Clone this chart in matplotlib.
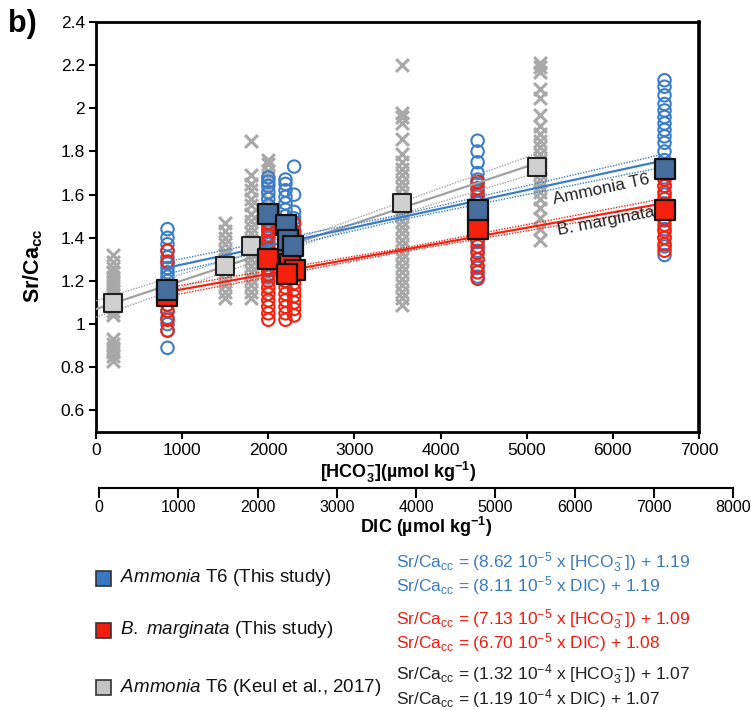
import numpy as np
import matplotlib
matplotlib.use("Agg")
import matplotlib.pyplot as plt
from matplotlib import font_manager

# fonts: narrow sans if present, else Liberation Sans
names = {f.name for f in font_manager.fontManager.ttflist}
narrow = "Liberation Sans Narrow" if "Liberation Sans Narrow" in names else "Liberation Sans"
plt.rcParams["font.family"] = [narrow, "DejaVu Sans"]
plt.rcParams["mathtext.fontset"] = "custom"
plt.rcParams["mathtext.rm"] = narrow
plt.rcParams["mathtext.it"] = narrow + ":italic"
plt.rcParams["mathtext.bf"] = narrow + ":bold"

# Keul et al. 2017 (grey crosses) - HCO3 columns
keul_cols = [200, 1500, 1800, 2000, 3550, 5150]
keul_200 = [0.83, 0.85, 0.87, 0.89, 0.91, 0.93, 1.04, 1.06, 1.08, 1.10, 1.12, 1.14, 1.16, 1.18, 1.20, 1.22, 1.24, 1.26, 1.29, 1.32]
keul_1500 = [1.12, 1.15, 1.18, 1.21, 1.24, 1.26, 1.28, 1.30, 1.32, 1.34, 1.37, 1.40, 1.43, 1.47]
keul_1800 = [1.12, 1.15, 1.18, 1.21, 1.24, 1.27, 1.30, 1.33, 1.36, 1.39, 1.42, 1.45, 1.48, 1.51, 1.55, 1.58, 1.62, 1.65, 1.69, 1.85]
keul_2000 = [1.14, 1.18, 1.22, 1.26, 1.30, 1.34, 1.38, 1.42, 1.46, 1.50, 1.54, 1.58, 1.62, 1.65, 1.68, 1.71, 1.74, 1.76]
keul_3550 = [1.09, 1.12, 1.15, 1.18, 1.21, 1.24, 1.27, 1.30, 1.33, 1.36, 1.39, 1.42, 1.45, 1.48, 1.51, 1.54, 1.57, 1.60, 1.63, 1.66, 1.69, 1.72, 1.75, 1.79, 1.86, 1.93, 1.96, 1.98, 2.20]
keul_5150 = [1.39, 1.44, 1.49, 1.54, 1.58, 1.61, 1.64, 1.67, 1.70, 1.73, 1.76, 1.79, 1.82, 1.85, 1.88, 1.92, 1.97, 2.05, 2.09, 2.17, 2.19, 2.21]
keul_vals = [keul_200, keul_1500, keul_1800, keul_2000, keul_3550, keul_5150]
keul_mean_x = [200, 1500, 1800, 3550, 5120]
keul_mean_y = [1.10, 1.27, 1.36, 1.56, 1.73]

# Ammonia T6, this study (blue circles)
amm_cols = [830, 2000, 2200, 2300, 4430, 6600]
amm_830 = [0.89, 0.97, 1.00, 1.03, 1.06, 1.09, 1.12, 1.15, 1.18, 1.20, 1.22, 1.24, 1.26, 1.28, 1.31, 1.34, 1.37, 1.40, 1.44]
amm_2000 = [1.22, 1.25, 1.28, 1.31, 1.34, 1.37, 1.40, 1.43, 1.46, 1.49, 1.52, 1.55, 1.58, 1.61, 1.64, 1.66, 1.68]
amm_2200 = [1.20, 1.23, 1.26, 1.29, 1.32, 1.35, 1.38, 1.41, 1.44, 1.47, 1.50, 1.53, 1.56, 1.59, 1.62, 1.65, 1.67]
amm_2300 = [1.25, 1.28, 1.31, 1.34, 1.37, 1.40, 1.43, 1.46, 1.49, 1.52, 1.60, 1.73]
amm_4430 = [1.22, 1.26, 1.30, 1.34, 1.38, 1.42, 1.46, 1.50, 1.53, 1.56, 1.59, 1.62, 1.65, 1.67, 1.70, 1.75, 1.80, 1.85]
amm_6600 = [1.32, 1.36, 1.40, 1.44, 1.48, 1.52, 1.56, 1.60, 1.64, 1.68, 1.72, 1.76, 1.80, 1.84, 1.87, 1.90, 1.93, 1.96, 1.99, 2.02, 2.06, 2.10, 2.13]
amm_vals = [amm_830, amm_2000, amm_2200, amm_2300, amm_4430, amm_6600]
amm_mean_x = [830, 2000, 2200, 2230, 2290, 4430, 6600]
amm_mean_y = [1.16, 1.51, 1.46, 1.39, 1.36, 1.53, 1.72]

# B. marginata, this study (red circles)
bm_cols = [830, 2000, 2200, 2300, 4430, 6600]
bm_830 = [0.97, 1.02, 1.06, 1.09, 1.12, 1.15, 1.29, 1.34]
bm_2000 = [1.02, 1.05, 1.08, 1.11, 1.14, 1.17, 1.20, 1.23, 1.26, 1.29, 1.32, 1.35, 1.38, 1.41, 1.44, 1.47]
bm_2200 = [1.02, 1.05, 1.08, 1.11, 1.14, 1.17, 1.20, 1.23, 1.26, 1.29, 1.32, 1.35, 1.38, 1.41, 1.44]
bm_2300 = [1.04, 1.07, 1.10, 1.13, 1.16, 1.19, 1.22, 1.25, 1.28, 1.31, 1.34, 1.37, 1.40, 1.43, 1.47]
bm_4430 = [1.21, 1.24, 1.27, 1.30, 1.33, 1.36, 1.39, 1.42, 1.45, 1.48, 1.51, 1.54, 1.57, 1.60, 1.63, 1.66]
bm_6600 = [1.34, 1.37, 1.40, 1.43, 1.46, 1.49, 1.52, 1.55, 1.58, 1.61, 1.64, 1.67]
bm_vals = [bm_830, bm_2000, bm_2200, bm_2300, bm_4430, bm_6600]
bm_mean_x = [830, 2000, 2250, 2310, 2220, 4430, 6600]
bm_mean_y = [1.13, 1.30, 1.28, 1.25, 1.23, 1.44, 1.53]

# regressions vs HCO3 (slope, intercept) and read-off band half widths
amm_fit = (8.62e-5, 1.19)
bm_fit = (7.13e-5, 1.09)
keul_fit = (1.32e-4, 1.07)
amm_band_x = [830, 3600, 6600]
amm_band_hw = [0.028, 0.012, 0.030]
bm_band_x = [830, 3600, 6600]
bm_band_hw = [0.020, 0.008, 0.022]
keul_band_x = [0, 2700, 5120]
keul_band_hw = [0.038, 0.018, 0.045]

blue = "#3a7dc8"
blue_sq = "#476d9c"
red = "#f5210f"
grey = "#a8a8a8"
grey_sq = "#d0d0d0"

fig = plt.figure(figsize=(7.51, 7.10), dpi=100)
ax = fig.add_axes([96 / 751, 1 - 432 / 710, 603 / 751, 410 / 710])

# grey crosses
for xc, vals in zip(keul_cols, keul_vals):
    ax.scatter([xc] * len(vals), vals, marker="x", s=85, color=grey, linewidths=2.2, zorder=2)
# blue circles
for xc, vals in zip(amm_cols, amm_vals):
    ax.scatter([xc] * len(vals), vals, marker="o", s=80, facecolors="none", edgecolors=blue, linewidths=1.5, zorder=3)
# red circles
for xc, vals in zip(bm_cols, bm_vals):
    ax.scatter([xc] * len(vals), vals, marker="o", s=80, facecolors="none", edgecolors=red, linewidths=1.5, zorder=4)

# regression lines + confidence bands
for fit, bx, hw, col in [(keul_fit, keul_band_x, keul_band_hw, "#a0a0a0"),
                         (amm_fit, amm_band_x, amm_band_hw, blue),
                         (bm_fit, bm_band_x, bm_band_hw, red)]:
    bx = np.array(bx)
    yy = fit[0] * bx + fit[1]
    ax.plot(bx, yy, color=col, lw=1.6, zorder=5)
    ax.plot(bx, yy + np.array(hw), color=col, lw=1.0, ls=(0, (1, 1)), zorder=5)
    ax.plot(bx, yy - np.array(hw), color=col, lw=1.0, ls=(0, (1, 1)), zorder=5)

# means
ax.scatter(keul_mean_x, keul_mean_y, marker="s", s=180, facecolor=grey_sq, edgecolor="#222222", linewidths=1.5, zorder=6)
ax.scatter(bm_mean_x, bm_mean_y, marker="s", s=210, facecolor=red, edgecolor="#111111", linewidths=1.6, zorder=7)
ax.scatter(amm_mean_x, amm_mean_y, marker="s", s=210, facecolor=blue_sq, edgecolor="#111111", linewidths=1.6, zorder=8)

ax.text(5860, 1.625, "Ammonia T6", rotation=12, ha="center", va="center", fontsize=12.5,
        family="Liberation Sans", color="#222222", zorder=9)
ax.text(5920, 1.475, "B. marginata", rotation=11, ha="center", va="center", fontsize=12.5,
        family="Liberation Sans", color="#222222", zorder=9)

ax.set_xlim(0, 7000)
ax.set_ylim(0.5, 2.4)
ax.set_xticks(np.arange(0, 7001, 1000))
ax.set_yticks(np.arange(0.6, 2.41, 0.2))
ax.set_yticklabels([f"{v:g}" for v in np.round(np.arange(0.6, 2.41, 0.2), 1)])
ax.tick_params(direction="out", length=5, width=1.5, labelsize=12.5, pad=3)
for side in ["left", "bottom", "top"]:
    ax.spines[side].set_linewidth(2)
ax.spines["right"].set_linewidth(2.6)

# second axis (DIC)
ax2 = fig.add_axes([99 / 751, 1 - 488 / 710, 634 / 751, 0.0001])
ax2.set_xlim(0, 8000)
ax2.set_xticks(np.arange(0, 8001, 1000))
ax2.set_yticks([])
for side in ["left", "right", "top"]:
    ax2.spines[side].set_visible(False)
ax2.spines["bottom"].set_linewidth(1.5)
ax2.tick_params(axis="x", direction="out", length=7, width=1.5, labelsize=11.5, pad=2)
ax2.patch.set_visible(False)

# labels
fig.text(8 / 751, 1 - 24 / 710, "b)", fontsize=22, fontweight="bold", family="Liberation Sans", va="center")
fig.text(33 / 751, 1 - 266 / 710, r"$\mathbf{Sr/Ca}_\mathbf{cc}$", rotation=90, fontsize=15.5,
         ha="center", va="center")
fig.text(398 / 751, 1 - 472 / 710, r"[HCO$_\mathbf{3}^\mathbf{-}$](µmol kg$^\mathbf{-1}$)", fontsize=13,
         fontweight="bold", ha="center", va="center")
fig.text(426 / 751, 1 - 527 / 710, r"DIC (µmol kg$^\mathbf{-1}$)", fontsize=13,
         fontweight="bold", ha="center", va="center")

# legend
leg_rows = [578, 630, 687]
leg_cols = ["#3a78c4", "#f01c10", "#c4c4c4"]
leg_lbls = [r"$\mathit{Ammonia}$ T6 (This study)",
            r"$\mathit{B.\ marginata}$ (This study)",
            r"$\mathit{Ammonia}$ T6 (Keul et al., 2017)"]
for yr, c, lbl in zip(leg_rows, leg_cols, leg_lbls):
    fig.add_artist(plt.Rectangle((96 / 751, 1 - (yr + 8) / 710), 15 / 751, 15 / 710,
                                 facecolor=c, edgecolor="#333333", lw=1.2, transform=fig.transFigure))
    fig.text(120 / 751, 1 - yr / 710, lbl, fontsize=13.5, va="center", color="#111111")

eq_lines = [
    (563, r"Sr/Ca$_\mathrm{cc}$ = (8.62 10$^{-5}$ x [HCO$_3^-$]) + 1.19", "#3a7bc0"),
    (586, r"Sr/Ca$_\mathrm{cc}$ = (8.11 10$^{-5}$ x DIC) + 1.19", "#3a7bc0"),
    (620, r"Sr/Ca$_\mathrm{cc}$ = (7.13 10$^{-5}$ x [HCO$_3^-$]) + 1.09", "#ee1c10"),
    (643, r"Sr/Ca$_\mathrm{cc}$ = (6.70 10$^{-5}$ x DIC) + 1.08", "#ee1c10"),
    (675, r"Sr/Ca$_\mathrm{cc}$ = (1.32 10$^{-4}$ x [HCO$_3^-$]) + 1.07", "#222222"),
    (699, r"Sr/Ca$_\mathrm{cc}$ = (1.19 10$^{-4}$ x DIC) + 1.07", "#222222"),
]
for yy, s, c in eq_lines:
    fig.text(396 / 751, 1 - yy / 710, s, fontsize=12.5, va="center", color=c)

fig.savefig("out.png", dpi=100)
